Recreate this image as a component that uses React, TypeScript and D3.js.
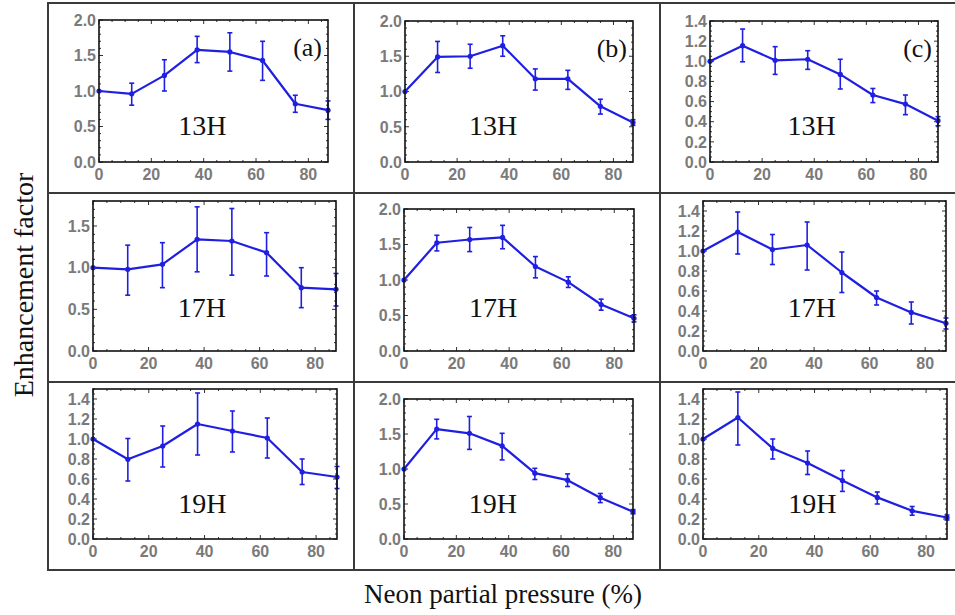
import React from "react";
import * as d3 from "d3";

// ---------- data ----------
const pressures = [0, 12.5, 25, 37.5, 50, 62.5, 75, 87.5];
const xTicks = [0, 20, 40, 60, 80];
const harmonics = ["13H", "17H", "19H"];
const panelLetters = ["(a)", "(b)", "(c)"];

const a13 = [1.0, 0.96, 1.22, 1.58, 1.55, 1.43, 0.82, 0.73];
const a13Lo = [1.0, 0.8, 1.0, 1.4, 1.28, 1.15, 0.7, 0.6];
const a13Hi = [1.0, 1.11, 1.44, 1.77, 1.82, 1.7, 0.94, 0.86];

const b13 = [1.0, 1.49, 1.5, 1.65, 1.18, 1.18, 0.79, 0.56];
const b13Lo = [1.0, 1.27, 1.33, 1.5, 1.02, 1.03, 0.68, 0.52];
const b13Hi = [1.0, 1.71, 1.67, 1.79, 1.32, 1.3, 0.89, 0.6];

const c13 = [1.0, 1.155, 1.01, 1.02, 0.87, 0.665, 0.575, 0.41];
const c13Lo = [1.0, 0.995, 0.87, 0.92, 0.725, 0.59, 0.47, 0.36];
const c13Hi = [1.0, 1.32, 1.145, 1.105, 1.02, 0.73, 0.665, 0.45];

const a17 = [1.0, 0.98, 1.04, 1.34, 1.32, 1.18, 0.76, 0.74];
const a17Lo = [1.0, 0.67, 0.76, 0.95, 0.91, 0.9, 0.52, 0.54];
const a17Hi = [1.0, 1.27, 1.3, 1.73, 1.71, 1.42, 1.0, 0.93];

const b17 = [1.0, 1.525, 1.57, 1.6, 1.19, 0.97, 0.655, 0.46];
const b17Lo = [1.0, 1.41, 1.4, 1.44, 1.03, 0.895, 0.575, 0.41];
const b17Hi = [1.0, 1.63, 1.74, 1.77, 1.33, 1.045, 0.73, 0.51];

const c17 = [1.0, 1.19, 1.015, 1.06, 0.785, 0.535, 0.386, 0.277];
const c17Lo = [1.0, 0.97, 0.865, 0.81, 0.585, 0.46, 0.27, 0.22];
const c17Hi = [1.0, 1.39, 1.165, 1.29, 0.99, 0.6, 0.49, 0.33];

const a19 = [1.0, 0.797, 0.93, 1.15, 1.08, 1.01, 0.67, 0.62];
const a19Lo = [1.0, 0.58, 0.72, 0.84, 0.87, 0.81, 0.545, 0.505];
const a19Hi = [1.0, 1.005, 1.13, 1.46, 1.28, 1.21, 0.8, 0.725];

const b19 = [1.0, 1.57, 1.51, 1.33, 0.94, 0.84, 0.59, 0.39];
const b19Lo = [1.0, 1.43, 1.28, 1.13, 0.85, 0.75, 0.52, 0.36];
const b19Hi = [1.0, 1.71, 1.75, 1.51, 1.01, 0.93, 0.65, 0.42];

const c19 = [1.0, 1.215, 0.906, 0.76, 0.584, 0.416, 0.282, 0.215];
const c19Lo = [1.0, 0.94, 0.8, 0.645, 0.476, 0.35, 0.238, 0.19];
const c19Hi = [1.0, 1.47, 1.0, 0.88, 0.685, 0.47, 0.325, 0.24];

// y axis ranges / tick steps for each panel (row-major)
const yMaxes = [2, 2, 1.4, 1.8, 2, 1.5, 1.5, 2, 1.5];
const ySteps = [0.5, 0.5, 0.2, 0.5, 0.5, 0.2, 0.2, 0.5, 0.2];

const xLabel = "Neon partial pressure (%)";
const yLabel = "Enhancement factor";

// ---------- layout ----------
const W = 955;
const H = 615;
const boxes = [
  { l: 99, r: 328, t: 20, b: 162, lx: 39.5, lb: 27 },
  { l: 405, r: 633, t: 21, b: 162, lx: 33.8, lb: 27 },
  { l: 710, r: 938, t: 21, b: 162, lx: 39, lb: 27 },
  { l: 93, r: 336, t: 201, b: 351, lx: 39.2, lb: 34 },
  { l: 404, r: 634, t: 209, b: 351, lx: 33.9, lb: 34 },
  { l: 703, r: 946, t: 201, b: 351, lx: 39.2, lb: 34 },
  { l: 93, r: 337, t: 389, b: 539, lx: 39.2, lb: 26 },
  { l: 404, r: 633, t: 399, b: 539, lx: 34, lb: 26 },
  { l: 703, r: 947, t: 389, b: 539, lx: 39.2, lb: 26 },
];
const table = { l: 48, r: 956, t: 3, b: 570, cols: [354, 660], rows: [193, 382] };

const BLUE = "#1f1fe2";
const GRAY = "#7a7a7a";
const SERIF = "'Liberation Serif', 'Times New Roman', serif";
const SANS = "'Liberation Sans', Arial, sans-serif";

const series = [
  [a13, a13Lo, a13Hi],
  [b13, b13Lo, b13Hi],
  [c13, c13Lo, c13Hi],
  [a17, a17Lo, a17Hi],
  [b17, b17Lo, b17Hi],
  [c17, c17Lo, c17Hi],
  [a19, a19Lo, a19Hi],
  [b19, b19Lo, b19Hi],
  [c19, c19Lo, c19Hi],
];

function Panel({ idx }: { idx: number }) {
  const box = boxes[idx];
  const [vals, lo, hi] = series[idx];
  const yMax = yMaxes[idx];
  const step = ySteps[idx];
  const x = d3.scaleLinear().domain([0, 87.5]).range([box.l, box.r]);
  const y = d3.scaleLinear().domain([0, yMax]).range([box.b, box.t]);
  const yTicks = d3.range(0, yMax + 1e-6, step).map((v) => +v.toFixed(2));
  const minorStep = step === 0.5 ? 0.1 : 0.05;
  const yMinor = d3.range(0, yMax + 1e-6, minorStep).map((v) => +v.toFixed(3));
  const xMinor = d3.range(0, 87.5 + 1e-6, 5);
  const line = d3
    .line<number>()
    .x((_, i) => x(pressures[i]))
    .y((d) => y(d));
  const row = Math.floor(idx / 3);
  const col = idx % 3;
  return (
    <g>
      {xMinor.map((v) => {
        const major = v % 20 === 0;
        const len = major ? 4 : 2;
        return (
          <g key={"xm" + v} stroke="#333" strokeWidth={1}>
            <line x1={x(v)} x2={x(v)} y1={box.b} y2={box.b - len} />
            <line x1={x(v)} x2={x(v)} y1={box.t} y2={box.t + len} />
          </g>
        );
      })}
      {yMinor.map((v) => {
        const major = yTicks.some((t) => Math.abs(t - v) < 1e-6);
        const len = major ? 4 : 2;
        return (
          <g key={"ym" + v} stroke="#333" strokeWidth={1}>
            <line x1={box.l} x2={box.l + len} y1={y(v)} y2={y(v)} />
            <line x1={box.r} x2={box.r - len} y1={y(v)} y2={y(v)} />
          </g>
        );
      })}
      {yTicks.map((v) => (
        <text
          key={"yl" + v}
          x={box.l - 3}
          y={y(v)}
          dy="0.36em"
          textAnchor="end"
          fontFamily={SANS}
          fontWeight="bold"
          fontSize={16}
          fill={GRAY}
        >
          {v.toFixed(1)}
        </text>
      ))}
      {xTicks.map((v) => (
        <text
          key={"xl" + v}
          x={x(v)}
          y={box.b + 18}
          textAnchor="middle"
          fontFamily={SANS}
          fontWeight="bold"
          fontSize={16}
          fill={GRAY}
        >
          {v}
        </text>
      ))}
      {vals.map((v, i) =>
        hi[i] - lo[i] > 1e-6 ? (
          <g key={"eb" + i} stroke={BLUE} strokeWidth={1.6}>
            <line x1={x(pressures[i])} x2={x(pressures[i])} y1={y(lo[i])} y2={y(hi[i])} />
            <line x1={x(pressures[i]) - 2.5} x2={x(pressures[i]) + 2.5} y1={y(lo[i])} y2={y(lo[i])} />
            <line x1={x(pressures[i]) - 2.5} x2={x(pressures[i]) + 2.5} y1={y(hi[i])} y2={y(hi[i])} />
          </g>
        ) : null
      )}
      <path d={line(vals) || ""} fill="none" stroke={BLUE} strokeWidth={2.2} strokeLinejoin="round" />
      {vals.map((v, i) => (
        <circle key={"pt" + i} cx={x(pressures[i])} cy={y(v)} r={2.6} fill={BLUE} />
      ))}
      <rect
        x={box.l}
        y={box.t}
        width={box.r - box.l}
        height={box.b - box.t}
        fill="none"
        stroke="#111"
        strokeWidth={1.6}
      />
      <text
        x={x(box.lx)}
        y={box.b - box.lb}
        textAnchor="middle"
        fontFamily={SERIF}
        fontSize={28}
        fill="#111"
      >
        {harmonics[row]}
      </text>
      {row === 0 ? (
        <text
          x={box.r - 6}
          y={box.t + 36}
          textAnchor="end"
          fontFamily={SERIF}
          fontSize={26}
          fill="#111"
        >
          {panelLetters[col]}
        </text>
      ) : null}
    </g>
  );
}

export default function App() {
  return (
    <svg
      width={W}
      height={H}
      style={{ position: "absolute", left: 0, top: 0, background: "#fff" }}
    >
      <rect x={0} y={0} width={W} height={H} fill="#fff" />
      <g stroke="#3a3a3a" strokeWidth={2} fill="none">
        <rect x={table.l} y={table.t} width={table.r - table.l} height={table.b - table.t} />
        {table.cols.map((c) => (
          <line key={"c" + c} x1={c} x2={c} y1={table.t} y2={table.b} />
        ))}
        {table.rows.map((r) => (
          <line key={"r" + r} x1={table.l} x2={table.r} y1={r} y2={r} />
        ))}
      </g>
      {boxes.map((_, i) => (
        <Panel key={i} idx={i} />
      ))}
      <text
        x={503}
        y={603}
        textAnchor="middle"
        fontFamily={SERIF}
        fontSize={27}
        fill="#111"
      >
        {xLabel}
      </text>
      <text
        transform="translate(33,285) rotate(-90)"
        textAnchor="middle"
        fontFamily={SERIF}
        fontSize={28}
        fill="#111"
      >
        {yLabel}
      </text>
    </svg>
  );
}
